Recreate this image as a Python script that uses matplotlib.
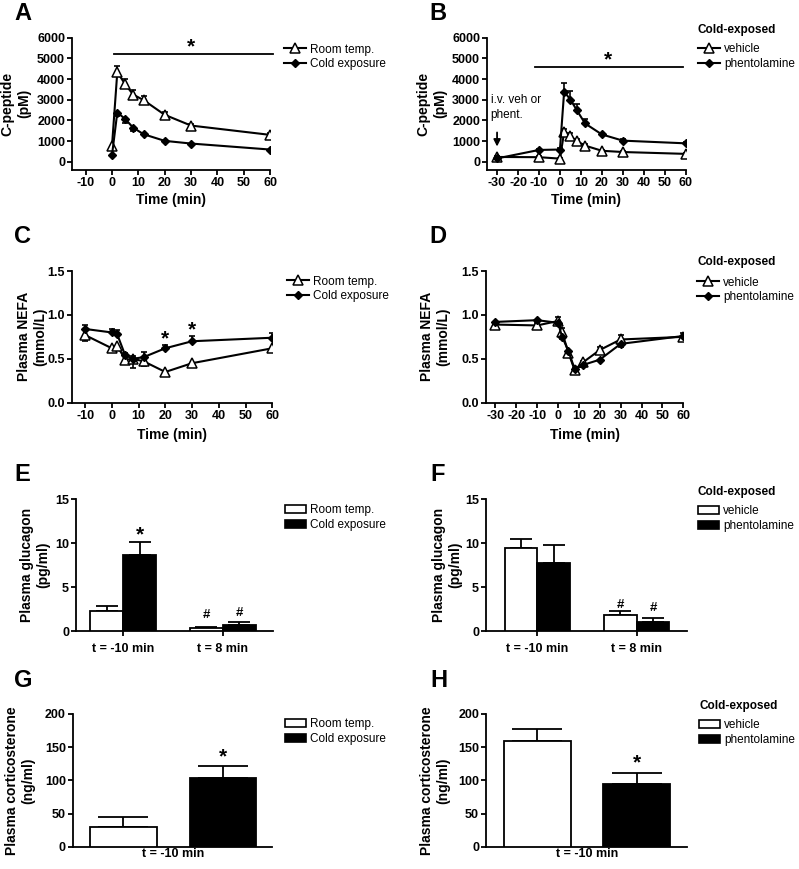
import numpy as np
import matplotlib
matplotlib.use("Agg")
import matplotlib.pyplot as plt
from matplotlib.lines import Line2D
from matplotlib.patches import Patch

plt.rcParams['font.family'] = ['Liberation Sans', 'DejaVu Sans']
plt.rcParams['font.weight'] = 'bold'
plt.rcParams['axes.labelweight'] = 'bold'
plt.rcParams['axes.unicode_minus'] = False

# ---- data ----
time_a = [0, 2, 5, 8, 12, 20, 30, 60]
cpep_room = [780, 4330, 3750, 3250, 2980, 2270, 1750, 1300]
cpep_room_err = [0, 320, 250, 230, 200, 150, 80, 80]
cpep_cold = [330, 2380, 2070, 1650, 1330, 1010, 880, 590]
cpep_cold_err = [0, 150, 200, 150, 60, 50, 40, 30]

time_b = [-30, -10, 0, 2, 5, 8, 12, 20, 30, 60]
cpep_veh = [230, 220, 150, 1430, 1250, 1000, 780, 530, 470, 380]
cpep_veh_err = [30, 40, 30, 150, 150, 120, 80, 50, 40, 40]
cpep_phen = [160, 570, 590, 3390, 3010, 2500, 1850, 1320, 1020, 890]
cpep_phen_err = [40, 60, 60, 400, 430, 270, 200, 80, 60, 50]

time_c = [-10, 0, 2, 5, 8, 12, 20, 30, 60]
nefa_room = [0.77, 0.62, 0.65, 0.49, 0.50, 0.47, 0.35, 0.45, 0.62]
nefa_room_err = [0.07, 0.03, 0.03, 0.04, 0.10, 0.05, 0.02, 0.02, 0.03]
nefa_cold = [0.84, 0.80, 0.78, 0.54, 0.50, 0.52, 0.62, 0.70, 0.74]
nefa_cold_err = [0.05, 0.04, 0.05, 0.03, 0.03, 0.06, 0.04, 0.06, 0.05]

time_d = [-30, -10, 0, 2, 5, 8, 12, 20, 30, 60]
nefa_veh = [0.89, 0.88, 0.93, 0.80, 0.57, 0.37, 0.46, 0.60, 0.72, 0.75]
nefa_veh_err = [0.02, 0.02, 0.05, 0.05, 0.02, 0.02, 0.02, 0.04, 0.05, 0.04]
nefa_phen = [0.92, 0.94, 0.91, 0.75, 0.59, 0.38, 0.43, 0.49, 0.67, 0.76]
nefa_phen_err = [0.04, 0.02, 0.02, 0.03, 0.02, 0.02, 0.02, 0.02, 0.04, 0.03]

gluc_groups = ['t = -10 min', 't = 8 min']
gluc_room = [2.3, 0.35]
gluc_room_err = [0.6, 0.1]
gluc_cold = [8.6, 0.7]
gluc_cold_err = [1.5, 0.35]
gluc_veh = [9.5, 1.85]
gluc_veh_err = [1.0, 0.45]
gluc_phen = [7.8, 1.05]
gluc_phen_err = [2.0, 0.45]

cort_group = ['t = -10 min']
cort_rt = [30, 104]
cort_rt_err = [15, 18]
cort_cx = [159, 94]
cort_cx_err = [19, 17]

W, H = 799, 869
fig = plt.figure(figsize=(W / 100, H / 100), dpi=100)


def add_ax(l, t, r, b):
    ax = fig.add_axes([l / W, 1 - b / H, (r - l) / W, (b - t) / H])
    ax.spines['top'].set_visible(False)
    ax.spines['right'].set_visible(False)
    for s in ('left', 'bottom'):
        ax.spines[s].set_linewidth(1.3)
    ax.tick_params(direction='out', length=3.5, width=1.3, labelsize=9, pad=1.5)
    return ax, (l, t, r, b)


def labels(ax, box, ylab, ylab_right, xlab=None, xlab_top=None):
    l, t, r, b = box
    ax.set_ylabel(ylab, fontsize=10)
    ax.yaxis.set_label_coords((ylab_right - l) / (r - l), 0.5)
    if xlab:
        ax.set_xlabel(xlab, fontsize=10)
        ax.xaxis.set_label_coords(0.5, -(xlab_top - b) / (b - t))


def legend(ax, handles, names, left, first_row, title_row=None, patch=False):
    top = first_row - 4.5
    ax.legend(handles, names, loc='upper left',
              bbox_to_anchor=(left / W, 1 - top / H), bbox_transform=fig.transFigure,
              frameon=False, borderpad=0, borderaxespad=0,
              handlelength=1.8 if patch else 1.9,
              handleheight=0.65 if patch else 0.7,
              handletextpad=0.3, labelspacing=0.25,
              prop={'size': 8.5, 'weight': 'normal'})
    if title_row is not None:
        fig.text(left / W, 1 - title_row / H, 'Cold-exposed', fontsize=8.5,
                 weight='bold', ha='left', va='center')


def line_pair(ax, x, y1, e1, up1, y2, e2, up2):
    z = [0] * len(x)
    for y, e, up in ((y1, e1, up1), (y2, e2, up2)):
        yerr = [z, e] if up else [e, z]
        ax.errorbar(x, y, yerr=yerr, fmt='none', ecolor='k', elinewidth=1.2,
                    capsize=2.5, capthick=1.2, zorder=2)
    ax.plot(x, y1, '-', color='k', lw=1.5, marker='^', ms=6.5, mfc='white', mec='k',
            mew=1.1, zorder=3)
    ax.plot(x, y2, '-', color='k', lw=1.5, marker='D', ms=3.8, mfc='k', mec='k', zorder=4)


tri = Line2D([], [], color='k', lw=1.5, marker='^', ms=6.5, mfc='white', mec='k', mew=1.1)
dia = Line2D([], [], color='k', lw=1.5, marker='D', ms=3.8, mfc='k', mec='k')
wpatch = Patch(facecolor='white', edgecolor='k', linewidth=1.2)
bpatch = Patch(facecolor='black', edgecolor='k', linewidth=1.2)

# ---- A ----
ax, box = add_ax(72, 37.7, 270, 170)
line_pair(ax, time_a, cpep_room, cpep_room_err, True, cpep_cold, cpep_cold_err, False)
ax.set_xlim(-15.2, 60)
ax.set_ylim(-400, 6000)
ax.set_xticks(range(-10, 61, 10))
ax.set_yticks(range(0, 6001, 1000))
ax.plot([0.8, 61], [5210, 5210], color='k', lw=1.3, clip_on=False)
ax.text(30, 5550, '*', fontsize=15, ha='center', va='center')
labels(ax, box, 'C-peptide\n(pM)', 31, 'Time (min)', 193)
legend(ax, [tri, dia], ['Room temp.', 'Cold exposure'], 284, 48)

# ---- B ----
ax, box = add_ax(487, 37.7, 685.7, 170)
line_pair(ax, time_b, cpep_veh, cpep_veh_err, True, cpep_phen, cpep_phen_err, True)
ax.set_xlim(-34.8, 60)
ax.set_ylim(-400, 6000)
ax.set_xticks(range(-30, 61, 10))
ax.set_yticks(range(0, 6001, 1000))
ax.plot([-11.9, 58.5], [4600, 4600], color='k', lw=1.3, clip_on=False)
ax.text(23, 4950, '*', fontsize=15, ha='center', va='center')
ax.text(-33, 2620, 'i.v. veh or\nphent.', fontsize=8.5, weight='normal',
        ha='left', va='center', linespacing=1.3)
ax.annotate('', xy=(-30, 600), xytext=(-30, 1550),
            arrowprops=dict(arrowstyle='-|>', color='k', lw=1.3, mutation_scale=10))
labels(ax, box, 'C-peptide\n(pM)', 447, 'Time (min)', 193)
legend(ax, [tri, dia], ['vehicle', 'phentolamine'], 698, 48, title_row=30)

# ---- C ----
ax, box = add_ax(71.7, 271, 272.3, 402.7)
line_pair(ax, time_c, nefa_room, nefa_room_err, False, nefa_cold, nefa_cold_err, True)
ax.set_xlim(-15, 60)
ax.set_ylim(0, 1.5)
ax.set_xticks(range(-10, 61, 10))
ax.set_yticks([0, 0.5, 1.0, 1.5])
ax.set_yticklabels(['0.0', '0.5', '1.0', '1.5'])
ax.text(20, 0.73, '*', fontsize=15, ha='center', va='center')
ax.text(30, 0.83, '*', fontsize=15, ha='center', va='center')
labels(ax, box, 'Plasma NEFA\n(mmol/L)', 47, 'Time (min)', 428)
legend(ax, [tri, dia], ['Room temp.', 'Cold exposure'], 287, 280)

# ---- D ----
ax, box = add_ax(485.7, 271, 683.3, 402.7)
line_pair(ax, time_d, nefa_veh, nefa_veh_err, True, nefa_phen, nefa_phen_err, False)
ax.set_xlim(-34.6, 60)
ax.set_ylim(0, 1.5)
ax.set_xticks(range(-30, 61, 10))
ax.set_yticks([0, 0.5, 1.0, 1.5])
ax.set_yticklabels(['0.0', '0.5', '1.0', '1.5'])
labels(ax, box, 'Plasma NEFA\n(mmol/L)', 450, 'Time (min)', 428)
legend(ax, [tri, dia], ['vehicle', 'phentolamine'], 697, 281, title_row=262)


def bar_pair(ax, pos, w, y1, e1, y2, e2, cap):
    pos = np.asarray(pos, dtype=float)
    ax.bar(pos - w / 2, y1, w, color='white', edgecolor='k', linewidth=1.3, zorder=3)
    ax.bar(pos + w / 2, y2, w, color='black', edgecolor='k', linewidth=1.3, zorder=3)
    z = [0] * len(pos)
    ax.errorbar(pos - w / 2, y1, yerr=[z, e1], fmt='none', ecolor='k', elinewidth=1.3,
                capsize=cap, capthick=1.3, zorder=2)
    ax.errorbar(pos + w / 2, y2, yerr=[z, e2], fmt='none', ecolor='k', elinewidth=1.3,
                capsize=cap, capthick=1.3, zorder=2)


# ---- E ----
ax, box = add_ax(76, 499.3, 273, 631)
g = np.arange(len(gluc_groups))
bar_pair(ax, g, 0.333, gluc_room, gluc_room_err, gluc_cold, gluc_cold_err, 8)
ax.set_xlim(-0.476, 1.506)
ax.set_ylim(0, 15)
ax.set_yticks([0, 5, 10, 15])
ax.set_xticks(g)
ax.set_xticklabels(gluc_groups)
ax.tick_params(axis='x', pad=5)
ax.text(0.1667, 10.9, '*', fontsize=15, ha='center', va='center')
ax.text(1 - 0.1667, 1.8, '#', fontsize=9.5, ha='center', va='center')
ax.text(1 + 0.1667, 2.1, '#', fontsize=9.5, ha='center', va='center')
labels(ax, box, 'Plasma glucagon\n(pg/ml)', 50)
legend(ax, [wpatch, bpatch], ['Room temp.', 'Cold exposure'], 285, 509, patch=True)

# ---- F ----
ax, box = add_ax(486, 499.3, 687, 631)
bar_pair(ax, g, 0.333, gluc_veh, gluc_veh_err, gluc_phen, gluc_phen_err, 8)
ax.set_xlim(-0.52, 1.51)
ax.set_ylim(0, 15)
ax.set_yticks([0, 5, 10, 15])
ax.set_xticks(g)
ax.set_xticklabels(gluc_groups)
ax.tick_params(axis='x', pad=5)
ax.text(1 - 0.1667, 3.0, '#', fontsize=9.5, ha='center', va='center')
ax.text(1 + 0.1667, 2.65, '#', fontsize=9.5, ha='center', va='center')
labels(ax, box, 'Plasma glucagon\n(pg/ml)', 462)
legend(ax, [wpatch, bpatch], ['vehicle', 'phentolamine'], 698, 509.7,
       title_row=491.7, patch=True)

# ---- G ----
ax, box = add_ax(72.7, 714, 271.7, 846.7)
ax.bar([0, 1], cort_rt, 0.67, color=['white', 'black'], edgecolor='k', linewidth=1.3, zorder=3)
ax.errorbar([0, 1], cort_rt, yerr=[[0, 0], cort_rt_err], fmt='none', ecolor='k',
            elinewidth=1.3, capsize=18, capthick=1.3, zorder=2)
ax.set_xlim(-0.51, 1.49)
ax.set_ylim(0, 200)
ax.set_yticks(range(0, 201, 50))
ax.set_xticks([0.5])
ax.set_xticklabels(cort_group)
ax.tick_params(axis='x', length=0, pad=1)
ax.text(1, 136, '*', fontsize=15, ha='center', va='center')
labels(ax, box, 'Plasma corticosterone\n(ng/ml)', 35)
legend(ax, [wpatch, bpatch], ['Room temp.', 'Cold exposure'], 285, 723, patch=True)

# ---- H ----
ax, box = add_ax(486, 714, 687, 846.7)
ax.bar([0, 1], cort_cx, 0.67, color=['white', 'black'], edgecolor='k', linewidth=1.3, zorder=3)
ax.errorbar([0, 1], cort_cx, yerr=[[0, 0], cort_cx_err], fmt='none', ecolor='k',
            elinewidth=1.3, capsize=18, capthick=1.3, zorder=2)
ax.set_xlim(-0.52, 1.51)
ax.set_ylim(0, 200)
ax.set_yticks(range(0, 201, 50))
ax.set_xticks([0.5])
ax.set_xticklabels(cort_group)
ax.tick_params(axis='x', length=0, pad=1)
ax.text(1, 126, '*', fontsize=15, ha='center', va='center')
labels(ax, box, 'Plasma corticosterone\n(ng/ml)', 450)
legend(ax, [wpatch, bpatch], ['vehicle', 'phentolamine'], 699, 724,
       title_row=705.7, patch=True)

# panel letters
for letter, x, y in [('A', 14, 2), ('B', 429, 2), ('C', 14, 225), ('D', 429, 225),
                     ('E', 14, 463), ('F', 430, 463), ('G', 14, 669), ('H', 430, 669)]:
    fig.text(x / W, 1 - y / H, letter, fontsize=17, weight='bold', ha='left', va='top')

fig.savefig('out.png', dpi=100)
